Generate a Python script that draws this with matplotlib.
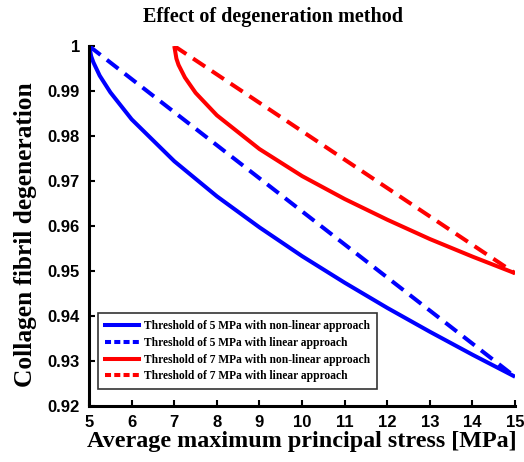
import matplotlib
matplotlib.use("Agg")
import matplotlib.pyplot as plt
from matplotlib.lines import Line2D

# Data
x5 = [5, 5.05, 5.1, 5.25, 5.5, 6, 7, 8, 9, 10, 11, 12, 13, 14, 15]
y5_nonlinear = [1.0, 0.9977, 0.9964, 0.9934, 0.9897, 0.9837, 0.9744, 0.9666, 0.9597,
                0.9533, 0.9474, 0.9418, 0.9365, 0.9314, 0.9265]
x5_lin = [5, 15]
y5_linear = [1.0, 0.9265]

x7 = [7, 7.05, 7.1, 7.25, 7.5, 8, 9, 10, 11, 12, 13, 14, 15]
y7_nonlinear = [1.0, 0.9972, 0.9958, 0.9930, 0.9896, 0.9846, 0.9771, 0.9711, 0.9660,
                0.9614, 0.9571, 0.9532, 0.9495]
x7_lin = [7, 15]
y7_linear = [1.0, 0.9495]

labels = ["Threshold of 5 MPa with non-linear approach",
          "Threshold of 5 MPa with linear approach",
          "Threshold of 7 MPa with non-linear approach",
          "Threshold of 7 MPa with linear approach"]

xticks = [5, 6, 7, 8, 9, 10, 11, 12, 13, 14, 15]
yticks = [0.92, 0.93, 0.94, 0.95, 0.96, 0.97, 0.98, 0.99, 1.0]
yticklabels = ["0.92", "0.93", "0.94", "0.95", "0.96", "0.97", "0.98", "0.99", "1"]

serif = "Liberation Serif"
sans = "Liberation Sans"
blue = "#0000ff"
red = "#ff0000"

fig = plt.figure(figsize=(5.24, 4.62), dpi=100)
ax = fig.add_axes([0.170, 0.1212, 0.813, 0.7792])

lw = 2.9
dash = (0, (3.6, 2.0))
ax.plot(x5, y5_nonlinear, color=blue, lw=lw, solid_capstyle="butt")
ax.plot(x5_lin, y5_linear, color=blue, lw=lw, linestyle=dash)
ax.plot(x7, y7_nonlinear, color=red, lw=lw, solid_capstyle="butt")
ax.plot(x7_lin, y7_linear, color=red, lw=lw, linestyle=dash)

ax.set_xlim(5, 15)
ax.set_ylim(0.92, 1.0)
ax.set_xticks(xticks)
ax.set_xticklabels([str(t) for t in xticks], fontfamily=sans, fontweight="bold", fontsize=12)
ax.set_yticks(yticks)
ax.set_yticklabels(yticklabels, fontfamily=sans, fontweight="bold", fontsize=12)
ax.tick_params(direction="in", length=4, width=1.5, pad=6.5, colors="black")

for s in ["top", "right"]:
    ax.spines[s].set_visible(False)
for s in ["left", "bottom"]:
    ax.spines[s].set_linewidth(2.2)

ax.set_xlabel("Average maximum principal stress [MPa]", fontfamily=serif,
              fontweight="bold", fontsize=17.4, labelpad=1)
ax.set_ylabel("Collagen fibril degeneration", fontfamily=serif,
              fontweight="bold", fontsize=18.3)
ax.yaxis.set_label_coords(-0.122, 0.475)
fig.text(143 / 524, 0.963, "Effect of degeneration method", fontfamily=serif,
         fontweight="bold", fontsize=14.5, ha="left", va="center")

leg_dash = (0, (1.5, 0.8))
handles = [Line2D([], [], color=blue, lw=lw),
           Line2D([], [], color=blue, lw=lw, linestyle=leg_dash),
           Line2D([], [], color=red, lw=lw),
           Line2D([], [], color=red, lw=lw, linestyle=leg_dash)]
leg = ax.legend(handles, labels, loc="lower left", bbox_to_anchor=(0.021, 0.047),
                borderaxespad=0,
                prop={"family": serif, "weight": "bold", "size": 8.3},
                frameon=True, fancybox=False, edgecolor="black",
                handlelength=2.95, borderpad=0.6, labelspacing=0.4,
                handletextpad=0.45)
leg.get_frame().set_linewidth(1.2)

fig.savefig("out.png", dpi=100)
